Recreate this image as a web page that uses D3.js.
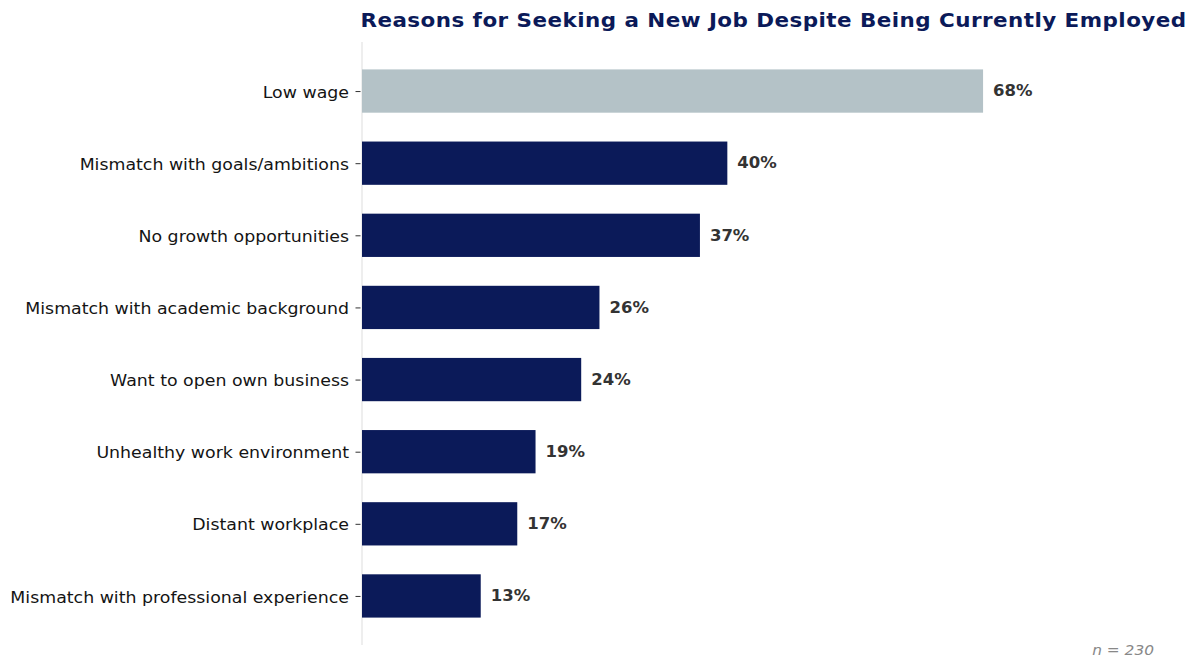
<!DOCTYPE html>
<html>
<head>
<meta charset="utf-8">
<script src="https://cdn.jsdelivr.net/npm/d3@7"></script>
<style>
  html, body { margin: 0; padding: 0; background: #fff; }
  svg { display: block; font-family: "DejaVu Sans", sans-serif; }
</style>
</head>
<body>
<svg id="chart" width="1192" height="658"></svg>
<script>
// Reasons given by employed respondents for looking for a new job
const categories = [
  "Low wage",
  "Mismatch with goals/ambitions",
  "No growth opportunities",
  "Mismatch with academic background",
  "Want to open own business",
  "Unhealthy work environment",
  "Distant workplace",
  "Mismatch with professional experience"
];
const values = [68, 40, 37, 26, 24, 19, 17, 13];
const highlighted = ["Low wage"];
const titleText = "Reasons for Seeking a New Job Despite Being Currently Employed";
const noteText = "n = 230";

const svg = d3.select("#chart");
const W = 1192, H = 658;
const margin = { top: 42, right: 8, bottom: 13, left: 362 };
const plotW = W - margin.left - margin.right;
const plotH = H - margin.top - margin.bottom;
const stretch = 1.1; // text is set slightly wide

const g = svg.append("g").attr("transform", `translate(${margin.left},${margin.top})`);

// Horizontal value scale, starting at the left spine
const x = d3.scaleLinear().domain([0, 90]).range([0, plotW]);

// Category positions: one unit per bar, bar thickness 0.6, small outer margin
const n = categories.length;
const pad = 0.68;
const yPos = d3.scaleLinear().domain([-pad, n - 1 + pad]).range([0, plotH]);
const barH = yPos(0.3) - yPos(0);

const data = categories.map((c, i) => ({ cat: c, val: values[i], idx: i }));

// Left spine
g.append("line")
  .attr("x1", 0).attr("x2", 0)
  .attr("y1", 0).attr("y2", plotH)
  .attr("stroke", "#dddddd").attr("stroke-width", 1);

// Bars
g.selectAll("rect.bar")
  .data(data)
  .join("rect")
  .attr("class", "bar")
  .attr("x", x(0))
  .attr("y", d => yPos(d.idx) - barH)
  .attr("width", d => x(d.val) - x(0))
  .attr("height", barH * 2)
  .attr("fill", d => highlighted.includes(d.cat) ? "#b4c2c7" : "#0b1a59");

// Category axis
const yAxis = d3.axisLeft(d3.scaleOrdinal().domain(categories).range(categories.map((c, i) => yPos(i))))
  .tickSize(5).tickPadding(6);
const ya = g.append("g").call(yAxis);
ya.select(".domain").remove();
ya.selectAll(".tick line").attr("stroke", "#333").attr("stroke-width", 1).attr("transform", "translate(-1.5,0)");
ya.selectAll(".tick text")
  .attr("x", 0)
  .attr("transform", `translate(-13,1) scale(${stretch},1)`)
  .attr("fill", "#141414")
  .style("font-size", "15.8px")
  .style("font-family", "'DejaVu Sans', sans-serif");

// Value labels
g.selectAll("text.val")
  .data(data)
  .join("text")
  .attr("class", "val")
  .attr("transform", d => `translate(${x(d.val) + 10},${yPos(d.idx)}) scale(${stretch},1)`)
  .attr("dy", "0.35em")
  .attr("fill", "#333333")
  .style("font-size", "15px")
  .style("font-weight", "bold")
  .text(d => d.val + "%");

// Title
svg.append("text")
  .attr("transform", `translate(773.5,27) scale(${stretch},1)`)
  .attr("text-anchor", "middle")
  .attr("fill", "#0b1a59")
  .style("font-size", "19.5px")
  .style("font-weight", "bold")
  .style("letter-spacing", "0.42px")
  .text(titleText);

// Sample size note
svg.append("text")
  .attr("transform", `translate(1154,655) scale(${stretch},1)`)
  .attr("text-anchor", "end")
  .attr("fill", "#888888")
  .style("font-size", "14px")
  .style("font-style", "italic")
  .text(noteText);
</script>
</body>
</html>
